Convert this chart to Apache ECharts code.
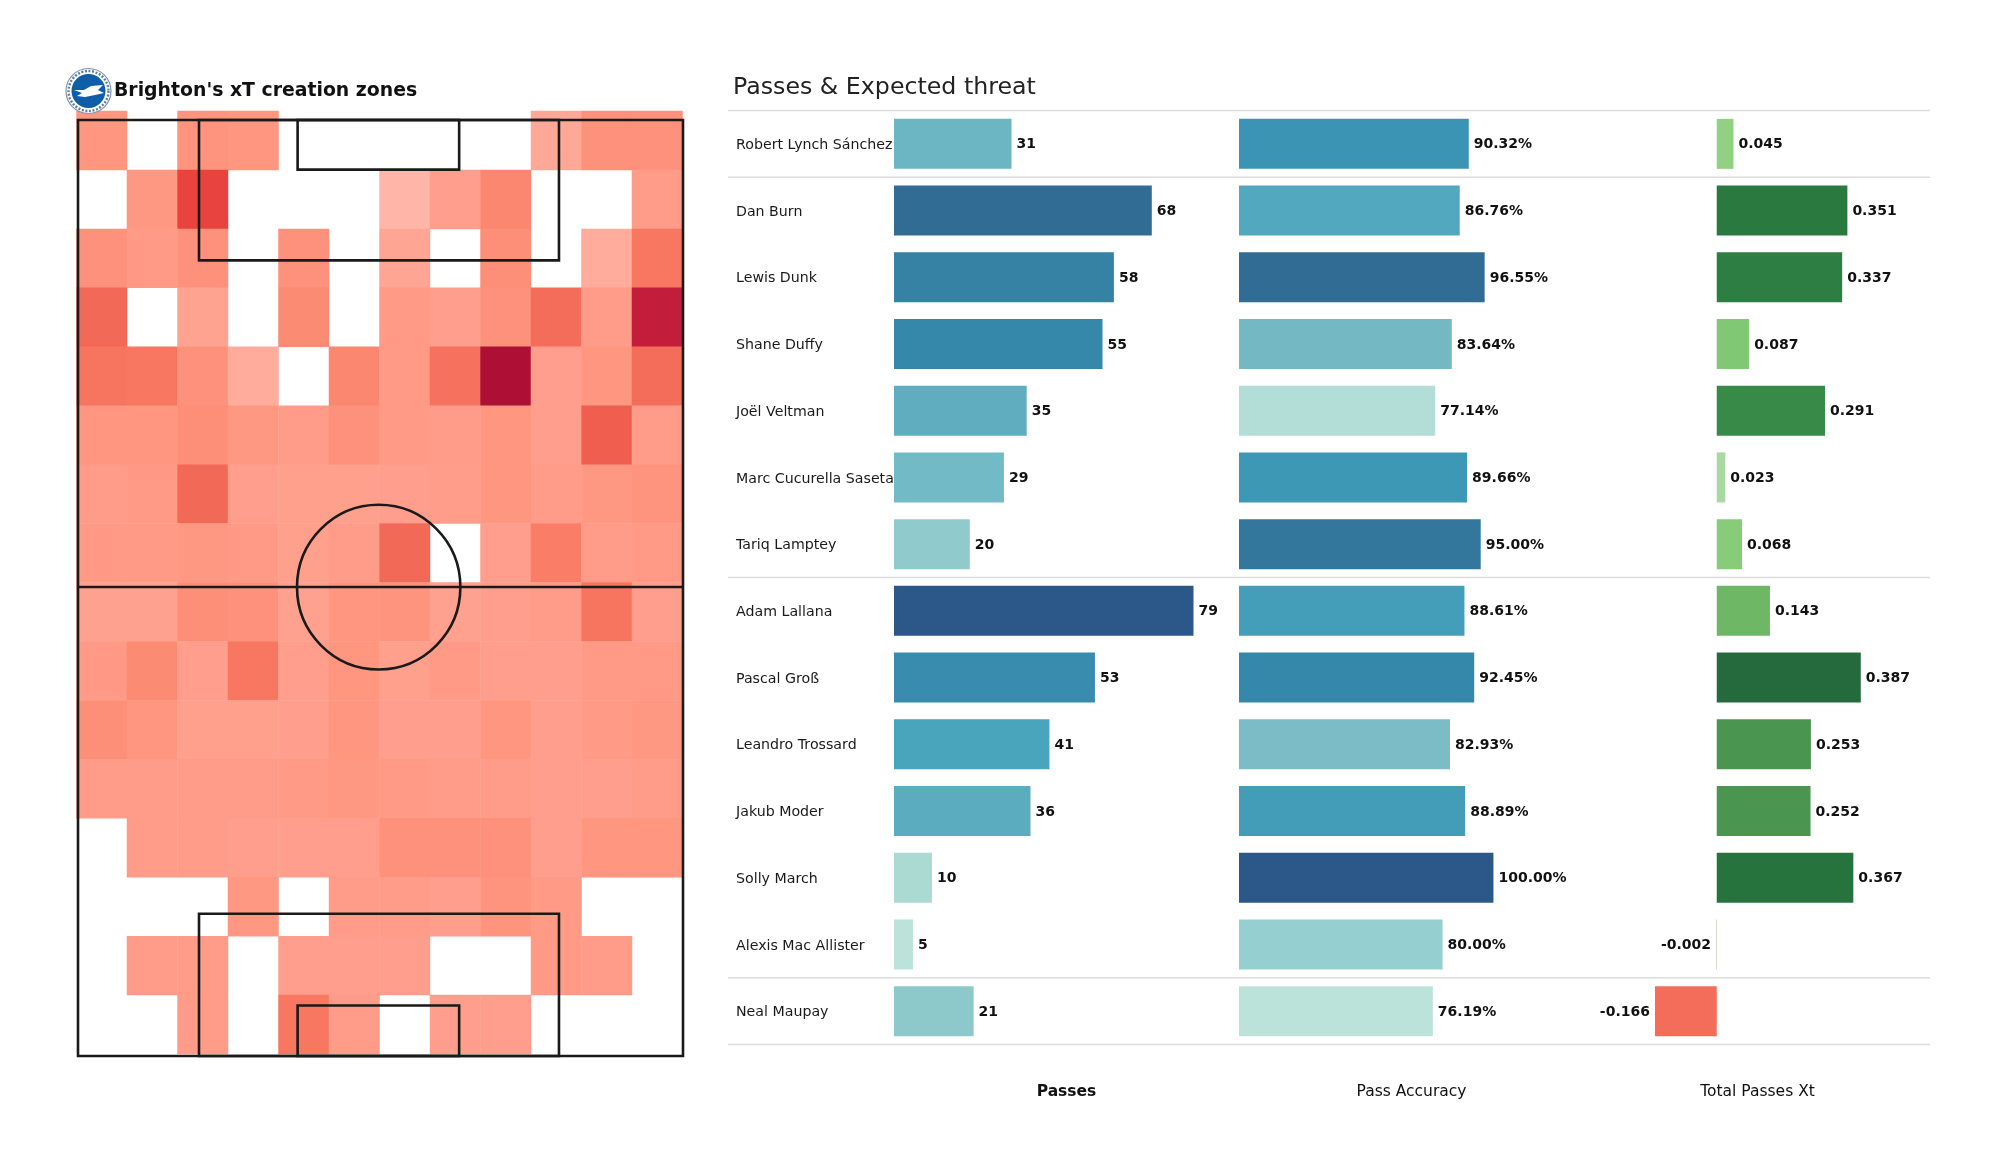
<!DOCTYPE html>
<html><head><meta charset="utf-8">
<style>html,body{margin:0;padding:0;background:#fff}#c{width:2000px;height:1175px}</style>
<script src="https://cdn.jsdelivr.net/npm/echarts@6/dist/echarts.min.js"></script>
</head><body><div id="c"></div>
<script>
const players = ['Robert Lynch Sánchez','Dan Burn','Lewis Dunk','Shane Duffy','Joël Veltman','Marc Cucurella Saseta','Tariq Lamptey','Adam Lallana','Pascal Groß','Leandro Trossard','Jakub Moder','Solly March','Alexis Mac Allister','Neal Maupay'];
const passes = [31,68,58,55,35,29,20,79,53,41,36,10,5,21];
const accuracy = [90.32,86.76,96.55,83.64,77.14,89.66,95.00,88.61,92.45,82.93,88.89,100.00,80.00,76.19];
const xT = [0.045,0.351,0.337,0.087,0.291,0.023,0.068,0.143,0.387,0.253,0.252,0.367,-0.002,-0.166];
const groupSizes = [1,6,6,1];
const n = null;
const heat = [
 [24,n,26,24,n,n,n,n,n,8,28,28],
 [n,22,70,n,n,n,0,16,34,n,n,18],
 [28,20,28,n,28,n,10,n,30,n,6,42],
 [52,n,12,n,32,n,20,16,28,50,18,85],
 [44,42,28,6,n,34,20,46,100,16,24,50],
 [24,24,30,22,18,28,20,18,24,16,58,18],
 [18,20,52,16,15,15,16,17,24,18,22,26],
 [20,20,22,20,15,18,52,n,16,38,18,20],
 [14,14,30,28,14,24,26,14,16,18,44,16],
 [20,32,16,42,16,24,15,20,16,16,20,20],
 [30,24,15,15,16,24,16,16,24,16,20,22],
 [18,18,18,18,20,22,20,18,18,16,16,18],
 [n,18,18,16,16,16,28,28,28,16,24,24],
 [n,n,n,22,n,18,18,16,26,20,n,n],
 [n,18,18,n,16,16,16,n,n,20,18,n],
 [n,n,18,n,42,18,n,16,16,n,n,n]
];
const heatColors = ['#ffb6a9','#ffa594','#ff9a86','#fd8f78','#f97a63','#f46c5a','#ef5b4c','#e9433f','#c9213c','#bb1838','#ae1035'];
const pitchRects = [[0,0,100,100],[20,0,79.5,15],[36.3,0,63,5.3],[20,84.8,79.5,100],[36.3,94.6,63,100]];
const halfway = [[0,49.9,100,49.9]];
const centreCircle = [[49.7,49.9,13.5,8.8]];
const passStops = [[5,'#bce3da'],[10,'#abdad2'],[20,'#90cacc'],[29,'#72bbc6'],[35,'#60adc0'],[41,'#48a5bc'],[55,'#3688aa'],[68,'#316c94'],[79,'#2b5888']];
const accStops = [[76.19,'#bce3da'],[80,'#96cfcf'],[83.64,'#74b8c4'],[86.76,'#52a8be'],[89.66,'#3d98b6'],[92.45,'#3688aa'],[96.55,'#316c94'],[100,'#2b5888']];
const xtStops = [[-0.166,'#f46d5a'],[-0.002,'#c8d2b8'],[0.023,'#a8d9a0'],[0.045,'#92d082'],[0.087,'#80c874'],[0.143,'#6db765'],[0.252,'#4a9650'],[0.291,'#378a48'],[0.351,'#2a7a40'],[0.387,'#246a3c']];

function hex(c){return [1,3,5].map(i=>parseInt(c.substr(i,2),16));}
function ramp(stops,v){
  if(v<=stops[0][0])return stops[0][1];
  for(let i=1;i<stops.length;i++){
    if(v<=stops[i][0]){
      const t=(v-stops[i-1][0])/(stops[i][0]-stops[i-1][0]);
      const a=hex(stops[i-1][1]),b=hex(stops[i][1]);
      return 'rgb('+a.map((x,k)=>Math.round(x+(b[k]-x)*t)).join(',')+')';
    }
  }
  return stops[stops.length-1][1];
}
const FONT='DejaVu Sans';
const heatData=[];
heat.forEach((r,y)=>r.forEach((v,x)=>{if(v!==null)heatData.push([x,y,v]);}));
const idx=a=>a.map((_,i)=>i);
const separators=[0];
groupSizes.reduce((s,g)=>{separators.push(s+g);return s+g;},0);

const lineStyle={stroke:'#1a1a1a',lineWidth:2.6,fill:null};
function rectItem(p,api){
  const a=api.coord([api.value(0),api.value(1)]),b=api.coord([api.value(2),api.value(3)]);
  return {type:'rect',shape:{x:a[0],y:a[1],width:b[0]-a[0],height:b[1]-a[1]},style:lineStyle,silent:true};
}
function panelX(i,min,max,name,bold){
  return {gridIndex:i,type:'value',min,max,splitLine:{show:false},axisLine:{show:false},axisTick:{show:false},axisLabel:{show:false},
    name,nameLocation:'middle',nameGap:39,nameTextStyle:{fontFamily:FONT,fontSize:15.5,color:'#111',fontWeight:bold?'bold':'normal'}};
}
function panelY(i,labels){
  return {gridIndex:i,type:'category',inverse:true,data:players,axisLine:{show:false},axisTick:{show:false},
    axisLabel:{show:labels,align:'left',margin:158,interval:0,formatter:v=>'{a|'+v+'}',
      rich:{a:{fontFamily:FONT,fontSize:14.2,color:'#1a1a1a',padding:[3,0,0,0]}}}};
}
function barSeries(i,vals,stops,fmt){
  return {type:'bar',xAxisIndex:i,yAxisIndex:i,barWidth:50,z:3,animation:false,
    data:vals.map(v=>({value:v,itemStyle:{color:ramp(stops,v)},label:{position:v<0?'left':'right'}})),
    label:{show:true,distance:5,offset:[0,1],fontFamily:FONT,fontWeight:'bold',fontSize:14,color:'#111',formatter:d=>fmt(d.value)}};
}
const option={
  backgroundColor:'#fff',animation:false,
  title:[
    {text:"Brighton's xT creation zones",left:114,top:82,padding:0,textStyle:{fontFamily:FONT,fontSize:18.85,fontWeight:'bold',color:'#111'}},
    {text:'Passes & Expected threat',left:733,top:76,padding:0,textStyle:{fontFamily:FONT,fontSize:23.7,fontWeight:'normal',color:'#222'}}
  ],
  grid:[
    {left:76.5,top:111,width:606,height:943},
    {left:78,top:120,width:605,height:936},
    {left:894,top:110.5,width:345,height:934},
    {left:1239,top:110.5,width:345,height:934},
    {left:1585,top:110.5,width:345,height:934},
    {left:728,top:110.5,width:1202,height:934}
  ],
  xAxis:[
    {gridIndex:0,type:'category',data:idx(heat[0]),show:false},
    {gridIndex:1,type:'value',min:0,max:100,show:false},
    panelX(2,0,91,'Passes',true),
    panelX(3,0,135.6,'Pass Accuracy',false),
    panelX(4,-0.354,0.573,'Total Passes Xt',false),
    {gridIndex:5,type:'value',min:0,max:1,show:false}
  ],
  yAxis:[
    {gridIndex:0,type:'category',inverse:true,data:idx(heat),show:false},
    {gridIndex:1,type:'value',inverse:true,min:0,max:100,show:false},
    panelY(2,true),panelY(3,false),panelY(4,false),
    {gridIndex:5,type:'value',inverse:true,min:0,max:players.length,show:false}
  ],
  visualMap:[{show:false,seriesIndex:0,dimension:2,min:0,max:100,inRange:{color:heatColors}}],
  graphic:[
    {type:'circle',z:50,shape:{cx:88.5,cy:91,r:22.5},style:{fill:'#fff',stroke:'#7f95ad',lineWidth:1.2}},
    {type:'circle',z:51,shape:{cx:88.5,cy:91,r:20},style:{fill:null,stroke:'#5f7f9f',lineWidth:2.4,lineDash:[2,1.6]}},
    {type:'circle',z:52,shape:{cx:88.5,cy:91,r:17},style:{fill:'#0f5fa8'}},
    {type:'polygon',z:53,shape:{points:[[74,90],[84,90],[91,86],[103,85],[98,90],[104,93],[95,95],[85,97],[77,96],[82,93]]},style:{fill:'#fff'}}
  ],
  series:[
    {type:'heatmap',xAxisIndex:0,yAxisIndex:0,data:heatData,z:1,animation:false,emphasis:{disabled:true}},
    {type:'custom',xAxisIndex:1,yAxisIndex:1,z:5,data:pitchRects,encode:{x:[0,2],y:[1,3]},renderItem:rectItem,silent:true},
    {type:'custom',xAxisIndex:1,yAxisIndex:1,z:5,data:halfway,encode:{x:[0,2],y:[1,3]},silent:true,
      renderItem:(p,api)=>{const a=api.coord([api.value(0),api.value(1)]),b=api.coord([api.value(2),api.value(3)]);
        return {type:'line',shape:{x1:a[0],y1:a[1],x2:b[0],y2:b[1]},style:lineStyle};}},
    {type:'custom',xAxisIndex:1,yAxisIndex:1,z:5,data:centreCircle,encode:{x:0,y:1},silent:true,
      renderItem:(p,api)=>{const c=api.coord([api.value(0),api.value(1)]);const s=api.size([api.value(2),api.value(3)]);
        return {type:'ellipse',shape:{cx:c[0],cy:c[1],rx:s[0],ry:s[1]},style:lineStyle};}},
    {type:'custom',xAxisIndex:5,yAxisIndex:5,z:2,data:separators.map(v=>[0,v,1,v]),encode:{x:[0,2],y:[1,3]},silent:true,
      renderItem:(p,api)=>{const a=api.coord([api.value(0),api.value(1)]),b=api.coord([api.value(2),api.value(3)]);
        return {type:'line',shape:{x1:a[0],y1:a[1],x2:b[0],y2:b[1]},style:{stroke:'#dcdcdc',lineWidth:1.6}};}},
    barSeries(2,passes,passStops,v=>String(v)),
    barSeries(3,accuracy,accStops,v=>v.toFixed(2)+'%'),
    barSeries(4,xT,xtStops,v=>v.toFixed(3))
  ]
};
echarts.init(document.getElementById('c'),null,{renderer:'canvas'}).setOption(option);
</script></body></html>
